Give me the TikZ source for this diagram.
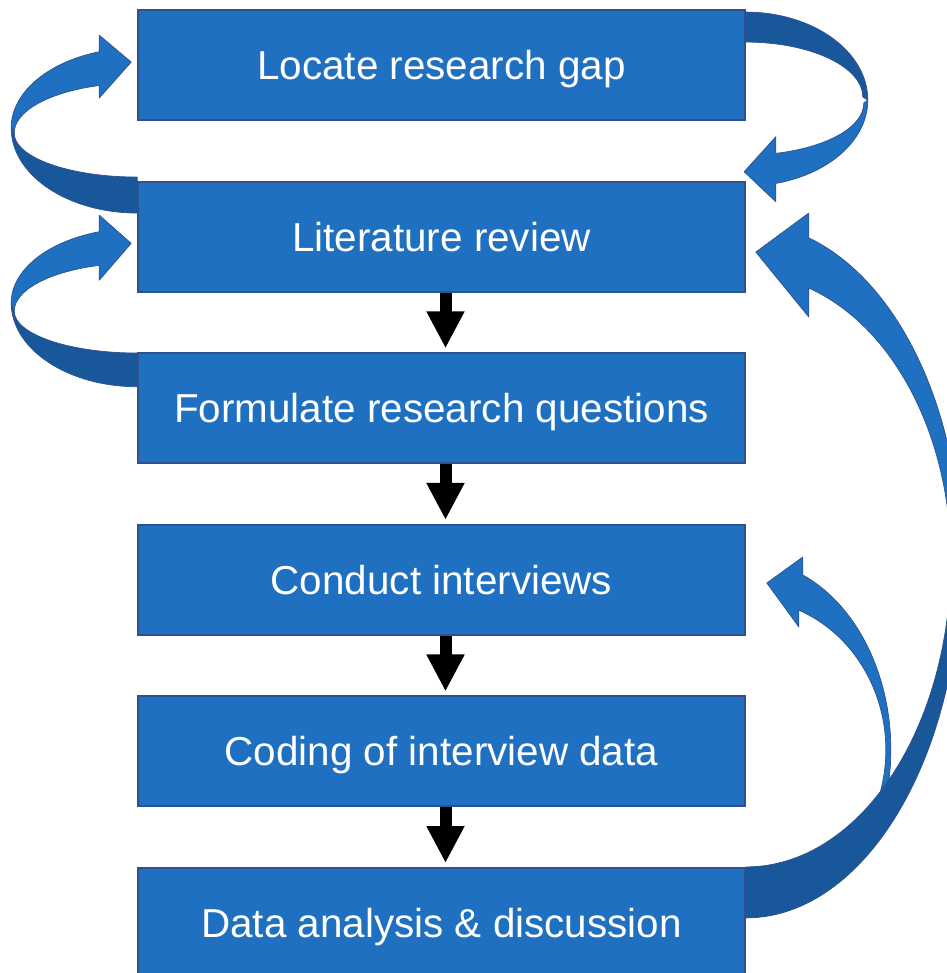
\documentclass[tikz,border=0pt]{standalone}
\usepackage{fontspec}
\setmainfont{Liberation Sans}
\usetikzlibrary{%
  matrix,%
  arrows.meta,%
  backgrounds%
}
\definecolor{boxblue}{RGB}{31,112,193}
\definecolor{bandblue}{RGB}{25,87,155}
\definecolor{rimblue}{RGB}{47,82,143}

\tikzset{
  stage/.style={draw=rimblue, line width=1pt, fill=boxblue, text=white,
    minimum width=12.14cm, minimum height=2.2cm, inner sep=0pt,
    text height=16.5pt, text depth=0pt,
    font=\fontsize{23}{27}\selectfont},
  flow/.style={line width=0.24cm, -{Triangle[width=0.71cm,length=0.74cm]}, shorten >=0.08cm,
    transform canvas={xshift=0.08cm}},
  front/.style={fill=boxblue, draw=rimblue, line width=0.4pt, line join=round},
  back/.style={fill=bandblue, draw=rimblue, line width=0.4pt, line join=round}
}

\begin{document}
\begin{tikzpicture}[x=0.02cm, y=-0.02cm]
\useasboundingbox (0,0) rectangle (946,973);

\matrix[matrix of nodes, row sep={3.432cm,between origins}, nodes={stage}] (s) at (441.5,494)
{
|[name=gap]| Locate research gap \\
|[name=lit]| Literature review \\
|[name=rq]| Formulate research questions \\
|[name=interv]| Conduct interviews \\
|[name=coding]| Coding of interview data \\
|[name=analysis]| Data analysis \& discussion \\
};

\draw[flow] (lit) edge (rq)
            (rq) edge (interv)
            (interv) edge (coding)
            (coding) edge (analysis)
;

\begin{pgfonlayer}{background}
% gap -> review, round the right side
\draw[back] (gap.east) ++(0,-53) arc[start angle=-90, end angle=0, x radius=122, y radius=88]
  -- ++(-5,-3) arc[start angle=0, end angle=-90, x radius=117, y radius=55] -- cycle;
\draw[front] (lit.east) ++(-1.7,-64.9) -- ++(31.7,-35) -- ++(0,16.6)
  arc[start angle=75.26, end angle=0, x radius=118, y radius=52]
  -- ++(4,-3) arc[start angle=0, end angle=75.77, x radius=122, y radius=86]
  -- ++(0,18.35) -- cycle;
% review -> gap, round the left side
\draw[back] (lit.west) ++(0,-23.6) arc[start angle=90, end angle=180, x radius=126, y radius=85]
  -- ++(3,5) arc[start angle=180, end angle=90, x radius=123, y radius=44] -- cycle;
\draw[front] (gap.west) ++(-6,-3) -- ++(-32,-27) -- ++(0,16.7)
  arc[start angle=252.45, end angle=180, x radius=126, y radius=80]
  -- ++(3,5) arc[start angle=180, end angle=252, x radius=123, y radius=50]
  -- ++(0,12.6) -- cycle;
% questions -> review
\draw[back] (rq.west) ++(0,-21.5) arc[start angle=90, end angle=180, x radius=126, y radius=84]
  -- ++(3,8.3) arc[start angle=180, end angle=90, x radius=123, y radius=42] -- cycle;
\draw[front] (lit.west) ++(-6,6.7) -- ++(-32,-28.3) -- ++(0,16.7)
  arc[start angle=252.45, end angle=180, x radius=126, y radius=74.8]
  -- ++(3,8.3) arc[start angle=180, end angle=252, x radius=123, y radius=48.4]
  -- ++(0,15) -- cycle;
% analysis -> interviews (its back runs under the long band)
\draw[front] (interv.east) ++(21,3.2) -- ++(36,-26) -- ++(0,18)
  arc[start angle=-66.85, end angle=20, x radius=145, y radius=190]
  -- ++(-4.7,-13.1) arc[start angle=20, end angle=-67.75, x radius=140, y radius=151]
  -- ++(0,16.8) -- cycle;
% analysis -> review
\draw[front] (lit.east) ++(10,15.4) -- ++(53,-39) -- ++(0,24.8)
  arc[start angle=-72.96, end angle=0, x radius=215, y radius=337]
  -- ++(-10,0) arc[start angle=0, end angle=-72.1, x radius=205, y radius=285.8]
  -- ++(0,29) -- cycle;
\draw[back] (analysis.east) ++(0,-5) arc[start angle=90, end angle=0, x radius=215, y radius=358]
  -- ++(-10,0) arc[start angle=0, end angle=90, x radius=205, y radius=307] -- cycle;
\end{pgfonlayer}
\end{tikzpicture}
\end{document}
